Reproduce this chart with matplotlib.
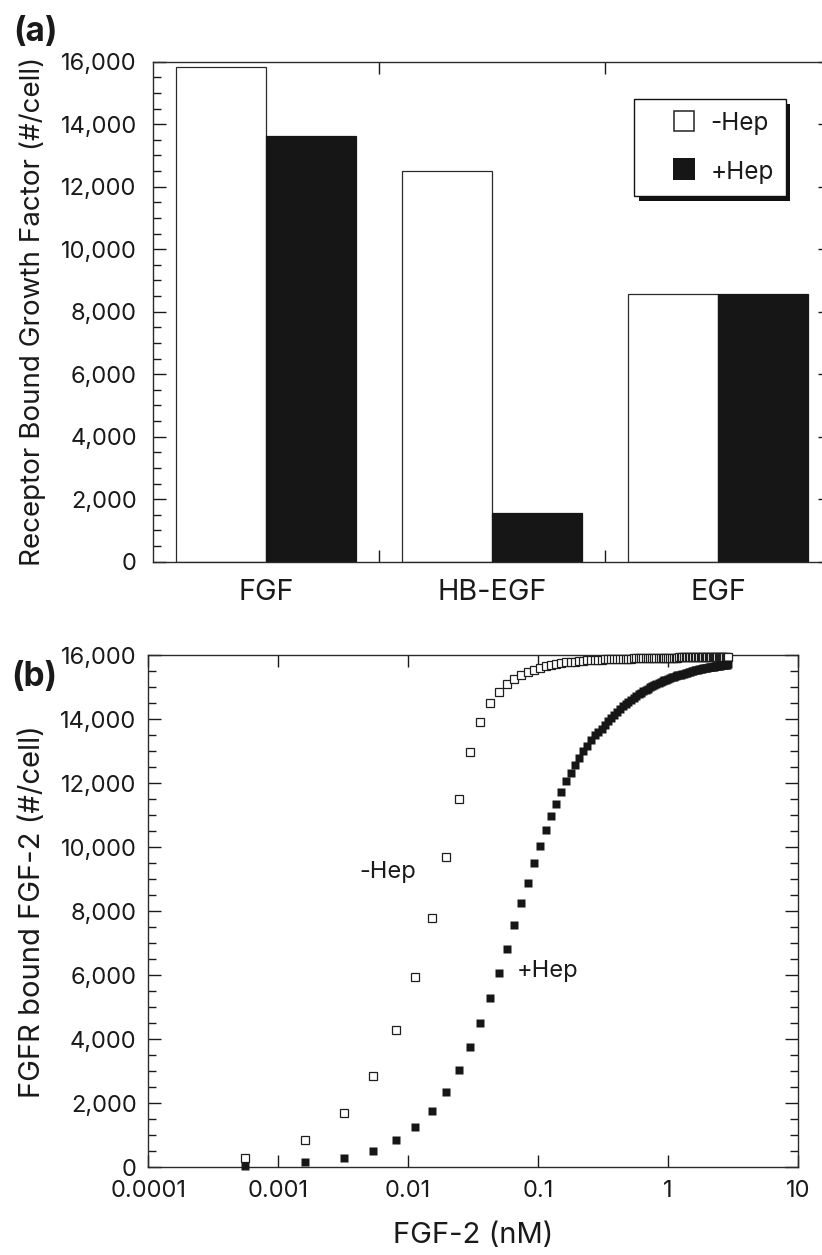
import matplotlib
matplotlib.use("Agg")
import matplotlib.pyplot as plt
import numpy as np
from matplotlib.lines import Line2D
from matplotlib.patches import Rectangle
from matplotlib.ticker import MultipleLocator, StrMethodFormatter, NullLocator

plt.rcParams['font.family'] = ['Inter', 'DejaVu Sans']

# panel (a): receptor bound growth factor
categories = ['FGF', 'HB-EGF', 'EGF']
bound_minus_hep = [15820, 12500, 8560]
bound_plus_hep = [13620, 1570, 8560]

# panel (b): FGFR bound FGF-2 vs FGF-2 concentration (nM)
fgf2_nm = [0.000559, 0.001622, 0.003236, 0.005404, 0.008123, 0.01140, 0.01522, 0.01960, 0.02453, 0.03001,
           0.03604, 0.04263, 0.04977, 0.05746, 0.06571, 0.07450, 0.08385, 0.09375, 0.1042, 0.1152,
           0.1268, 0.1389, 0.1516, 0.1648, 0.1785, 0.1929, 0.2077, 0.2232, 0.2391, 0.2557,
           0.2728, 0.2904, 0.3086, 0.3273, 0.3466, 0.3665, 0.3869, 0.4078, 0.4293, 0.4514,
           0.4740, 0.4971, 0.5208, 0.5451, 0.5699, 0.5953, 0.6212, 0.6477, 0.6747, 0.7023,
           0.7304, 0.7591, 0.7884, 0.8181, 0.8485, 0.8794, 0.9108, 0.9428, 0.9754, 1.008,
           1.042, 1.076, 1.111, 1.146, 1.182, 1.219, 1.256, 1.293, 1.331, 1.370,
           1.409, 1.449, 1.489, 1.530, 1.571, 1.613, 1.656, 1.699, 1.742, 1.787,
           1.831, 1.877, 1.922, 1.969, 2.016, 2.063, 2.111, 2.160, 2.209, 2.259,
           2.309, 2.360, 2.411, 2.463, 2.515, 2.568, 2.622, 2.676, 2.730, 2.786,
           2.841, 2.898]
fgfr_minus_hep = [290, 850, 1710, 2860, 4280, 5940, 7780, 9700, 11510, 12960,
                  13910, 14500, 14840, 15090, 15250, 15390, 15470, 15540, 15600, 15660,
                  15700, 15730, 15760, 15770, 15780, 15790, 15810, 15820, 15830, 15830,
                  15840, 15850, 15850, 15860, 15860, 15870, 15870, 15880, 15880, 15880,
                  15890, 15890, 15890, 15900, 15900, 15900, 15900, 15900, 15910, 15910,
                  15910, 15910, 15910, 15910, 15920, 15920, 15920, 15920, 15920, 15920,
                  15920, 15920, 15920, 15920, 15920, 15930, 15930, 15930, 15930, 15930,
                  15930, 15930, 15930, 15930, 15930, 15930, 15930, 15930, 15930, 15930,
                  15930, 15930, 15930, 15930, 15930, 15930, 15930, 15930, 15930, 15940,
                  15940, 15940, 15940, 15940, 15940, 15940, 15940, 15940, 15940, 15940,
                  15940, 15940]
fgfr_plus_hep = [50, 170, 300, 520, 840, 1270, 1770, 2350, 3030, 3750,
                 4520, 5300, 6080, 6830, 7570, 8260, 8890, 9500, 10040, 10520,
                 10960, 11360, 11730, 12050, 12330, 12570, 12790, 12990, 13170, 13340,
                 13490, 13610, 13700, 13810, 13930, 14040, 14140, 14230, 14320, 14400,
                 14470, 14540, 14610, 14670, 14720, 14770, 14820, 14870, 14910, 14950,
                 14990, 15030, 15060, 15090, 15130, 15150, 15180, 15210, 15230, 15260,
                 15280, 15300, 15320, 15340, 15360, 15380, 15390, 15410, 15420, 15440,
                 15450, 15470, 15480, 15490, 15500, 15520, 15530, 15540, 15550, 15560,
                 15570, 15580, 15590, 15590, 15600, 15610, 15620, 15630, 15630, 15640,
                 15650, 15650, 15660, 15670, 15670, 15680, 15680, 15690, 15690, 15700,
                 15700, 15710]

x_ticks = [0.0001, 0.001, 0.01, 0.1, 1, 10]
x_tick_labels = ['0.0001', '0.001', '0.01', '0.1', '1', '10']

INK = '#1a1a1a'
W, H = 822, 1255


def style_y(ax, pad):
    ax.set_ylim(0, 16000)
    ax.set_yticks(np.arange(0, 16001, 2000))
    ax.yaxis.set_minor_locator(MultipleLocator(500))
    ax.yaxis.set_major_formatter(StrMethodFormatter('{x:,.0f}'))
    ax.tick_params(axis='y', which='both', direction='in', left=True, right=True,
                   width=1.0, color=INK, labelcolor=INK)
    ax.tick_params(axis='y', which='major', length=9.4, pad=pad, labelsize=17)
    ax.tick_params(axis='y', which='minor', length=5.5)
    for s in ax.spines.values():
        s.set_linewidth(1.0)
        s.set_color('#2a2a2a')


def main():
    fig = plt.figure(figsize=(8.22, 12.55), dpi=100)

    # ---- (a) bar chart ----
    ax1 = fig.add_axes([153 / W, 1 - 561.7 / H, 678 / W, 500 / H])
    idx = np.arange(len(categories))
    ax1.bar(idx - 0.2, bound_minus_hep, width=0.4, color='white', edgecolor='#2a2a2a', linewidth=0.9)
    ax1.bar(idx + 0.2, bound_plus_hep, width=0.4, color='#161616', edgecolor='#161616', linewidth=0.9)
    ax1.set_xlim(-0.5, 2.5)
    ax1.set_xticks([0.5, 1.5])
    ax1.set_xticks(idx, categories, minor=True)
    ax1.tick_params(axis='x', which='major', direction='in', top=True, bottom=True,
                    length=8.8, width=1.0, color=INK, labelbottom=False)
    ax1.tick_params(axis='x', which='minor', length=0, pad=12.5, labelsize=20.8, labelcolor=INK)
    style_y(ax1, 11.7)
    ax1.set_ylabel('Receptor Bound Growth Factor (#/cell)', fontsize=20, color=INK)
    ax1.yaxis.set_label_coords((46 - 153) / 678, 0.5)

    handles = [Line2D([], [], ls='none', marker='s', ms=14.5, mfc='white', mec='#222222', mew=1.1),
               Line2D([], [], ls='none', marker='s', ms=15.5, mfc='#161616', mec='#161616', mew=0)]
    leg = ax1.legend(handles, ['-Hep', '+Hep'], loc='upper left',
                     bbox_to_anchor=((634 - 153) / 678, (561.7 - 99) / 500), borderaxespad=0,
                     frameon=True, fancybox=False, edgecolor='#111111', framealpha=1,
                     fontsize=17.5, borderpad=0.5, labelspacing=1.0, handlelength=3.13,
                     handletextpad=-0.49, handleheight=1.0)
    leg.get_frame().set_linewidth(1.0)
    leg.set_zorder(6)
    for t in leg.get_texts():
        t.set_color(INK)

    # drop shadow under the legend box, offset down/right
    fig.canvas.draw()
    bb = leg.get_window_extent()
    (x0, y0), (x1, y1) = ax1.transAxes.inverted().transform([[bb.x0 + 4.5, bb.y0 - 4.5],
                                                             [bb.x1 + 4.5, bb.y1 - 4.5]])
    ax1.add_patch(Rectangle((x0, y0), x1 - x0, y1 - y0, transform=ax1.transAxes,
                            facecolor='#111111', edgecolor='none', zorder=5.5, clip_on=False))

    # ---- (b) binding curves ----
    ax2 = fig.add_axes([148.3 / W, 1 - 1167.3 / H, 649.4 / W, 512.3 / H])
    ax2.plot(fgf2_nm, fgfr_minus_hep, ls='none', marker='s', ms=5.4, mfc='white',
             mec='#1e1e1e', mew=0.9, clip_on=False, zorder=3)
    ax2.plot(fgf2_nm, fgfr_plus_hep, ls='none', marker='s', ms=6.1, mfc='#161616',
             mec='none', clip_on=False, zorder=4)
    ax2.set_xscale('log')
    ax2.set_xlim(1e-4, 10)
    ax2.set_xticks(x_ticks, x_tick_labels)
    ax2.xaxis.set_minor_locator(NullLocator())
    ax2.tick_params(axis='x', which='major', direction='in', top=True, bottom=True,
                    length=8.5, width=1.0, pad=9, labelsize=17, color=INK, labelcolor=INK)
    style_y(ax2, 8.4)
    ax2.text(0.0070, 9230, '-Hep', ha='center', va='center', fontsize=17, color=INK)
    ax2.text(0.0689, 6130, '+Hep', ha='left', va='center', fontsize=17, color=INK)
    ax2.set_ylabel('FGFR bound FGF-2 (#/cell)', fontsize=21, color=INK)
    ax2.yaxis.set_label_coords((46 - 148.3) / 649.4, 0.5)
    ax2.set_xlabel('FGF-2 (nM)', fontsize=21, color=INK)
    ax2.xaxis.set_label_coords(0.5, (1167.3 - 1222) / 512.3)

    fig.text(13 / W, 1 - 31.7 / H, '(a)', fontsize=24, fontweight='bold', ha='left', va='center', color=INK)
    fig.text(11.7 / W, 1 - 676.7 / H, '(b)', fontsize=24, fontweight='bold', ha='left', va='center', color=INK)

    fig.savefig('out.png', dpi=100)


if __name__ == "__main__":
    main()
